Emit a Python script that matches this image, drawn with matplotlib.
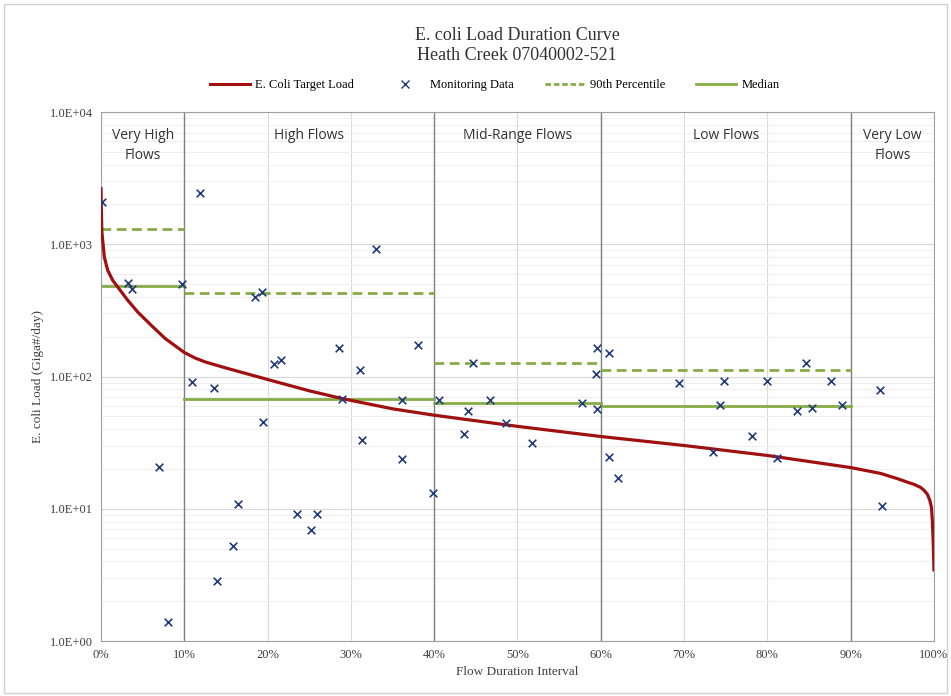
import matplotlib
matplotlib.use("Agg")
import matplotlib.pyplot as plt
from matplotlib.lines import Line2D
from matplotlib.patches import Rectangle
from matplotlib.ticker import FixedLocator, FuncFormatter, LogLocator, NullFormatter

# Target load curve (flow duration %, Giga#/day)
curve_pct = [0, 0.03, 0.1, 0.4, 0.8, 1.4, 2.0, 3.2, 4.4, 6.0, 7.7, 10, 11.3, 12.5, 15,
             17.5, 20, 25, 29, 35, 40, 50, 60, 70, 80, 90, 93.6, 95.6, 96.8, 97.6,
             98.4, 98.8, 99.2, 99.5, 99.7, 99.8, 99.9, 100]
curve_load = [2630, 2000, 1250, 800, 637, 535, 476, 378, 308, 245, 194, 152, 138, 129, 116,
              105, 95, 78, 68, 57, 51, 42, 35.2, 30.1, 25.3, 20.5, 18.5, 16.9, 15.9, 15.3,
              14.5, 13.8, 12.9, 11.6, 10.2, 8.2, 5.8, 3.45]

# Monitoring samples
obs_pct = [0.12, 3.3, 3.7, 9.7, 7.0, 8.0,
           11.9, 10.9, 13.6, 13.9, 15.8, 16.4, 18.5, 19.3, 19.4, 20.8, 21.6, 23.5,
           25.2, 25.9, 28.6, 28.9, 31.1, 31.3, 33.0, 36.1, 36.1, 38.0, 39.8,
           40.6, 43.6, 44.1, 44.6, 46.7, 48.6, 51.8, 57.7, 59.4, 59.5, 59.5,
           61.0, 61.0, 62.1, 69.4, 73.5, 74.3, 74.8, 78.2, 79.9, 81.2, 83.6, 84.6,
           85.4, 87.6, 89.0,
           93.5, 93.8]
obs_load = [2090, 510, 462, 500, 20.6, 1.40,
            2450, 90.6, 82, 2.84, 5.2, 10.8, 400, 437, 45.4, 125, 134, 9.17,
            6.9, 9.17, 165, 68, 113, 33.4, 916, 66, 23.6, 172, 13.1,
            67, 36.7, 55.3, 127, 65.9, 44.7, 31.6, 62.8, 104, 164, 57,
            150, 24.5, 17.1, 89, 26.8, 61, 92, 35.4, 92, 24.2, 54.5, 127,
            58, 92.7, 60.4,
            79.6, 10.5]

# Flow regimes and their summary statistics
zone_edges = [0, 10, 40, 60, 90, 100]
zone_names = ["Very High\nFlows", "High Flows", "Mid-Range Flows", "Low Flows", "Very Low\nFlows"]
p90_load = [1312, 428, 127, 112]
median_load = [484, 67.8, 63, 59.7]

RED = "#A01010"
NAVY = "#203A7C"
GREEN = "#86AC45"
SERIF = ["Liberation Serif", "DejaVu Serif"]

fig = plt.figure(figsize=(9.51, 6.96), dpi=100)
fig.patches.append(Rectangle((0.004, 0.004), 0.992, 0.99, transform=fig.transFigure,
                             fill=False, edgecolor="#D0D0D0", linewidth=1.0))
ax = fig.add_axes([0.1062, 0.079, 0.8759, 0.760])

ax.set_yscale("log")
ax.set_ylim(1, 1e4)
ax.set_xlim(0, 100)

# grid: light at every 10%, darker at regime boundaries
ax.xaxis.set_major_locator(FixedLocator(range(0, 101, 10)))
ax.yaxis.set_major_locator(LogLocator(base=10, numticks=10))
ax.yaxis.set_minor_locator(LogLocator(base=10, subs=range(2, 10), numticks=20))
ax.yaxis.set_minor_formatter(NullFormatter())
ax.grid(True, which="major", color="#D9D9D9", linewidth=0.8)
ax.grid(True, which="minor", axis="y", color="#EFEFEF", linewidth=0.7)
ax.set_axisbelow(True)
for edge in zone_edges[1:-1]:
    ax.axvline(edge, color="#808080", linewidth=1.0, zorder=1)
for s in ax.spines.values():
    s.set_color("#A0A0A0")

ax.xaxis.set_major_formatter(FuncFormatter(lambda v, _: f"{v:.0f}%"))
ax.yaxis.set_major_formatter(FuncFormatter(lambda v, _: f"{v:.1E}"))
ax.tick_params(which="both", length=0)
ax.tick_params(labelsize=9, colors="#404040", pad=6)
for lab in ax.get_xticklabels() + ax.get_yticklabels():
    lab.set_family(SERIF)

ax.plot(curve_pct, curve_load, color=RED, linewidth=2.3, zorder=3, solid_joinstyle="round")
ax.scatter(obs_pct, obs_load, marker="x", color=NAVY, s=30, linewidths=1.2, zorder=4)
for i in range(len(p90_load)):
    lo, hi = zone_edges[i], zone_edges[i + 1]
    ax.plot([lo, hi], [p90_load[i]] * 2, color=GREEN, linestyle=(0, (3.5, 2)), linewidth=2.0, zorder=2)
    ax.plot([lo, hi], [median_load[i]] * 2, color=GREEN, linewidth=2.0, zorder=2)

for i, name in enumerate(zone_names):
    mid = (zone_edges[i] + zone_edges[i + 1]) / 2
    ax.text(mid, 0.97, name, transform=ax.get_xaxis_transform(), ha="center", va="top",
            fontsize=10, family=["Open Sans", "DejaVu Sans"], color="#333333", linespacing=1.5)

ax.set_xlabel("Flow Duration Interval", fontsize=9.5, family=SERIF, color="#404040", labelpad=3)
ax.set_ylabel("E. coli Load (Giga#/day)", fontsize=9.5, family=SERIF, color="#404040", labelpad=4)

fig.text(0.544, 0.935, "E. coli Load Duration Curve\nHeath Creek 07040002-521", ha="center",
         va="center", fontsize=13, family=SERIF, color="#333333", linespacing=1.2)

handles = [
    Line2D([], [], color=RED, linewidth=2.2),
    Line2D([], [], color=NAVY, marker="x", linestyle="none", markersize=6),
    Line2D([], [], color=GREEN, linestyle=(0, (2, 1)), linewidth=2.0),
    Line2D([], [], color=GREEN, linewidth=2.0),
]
labels = ["E. Coli Target Load", "Monitoring Data", "90th Percentile", "Median"]
fig.legend(handles, labels, loc="center", bbox_to_anchor=(0.52, 0.878), ncol=4, frameon=False,
           prop={"family": SERIF, "size": 9}, handlelength=3.2, columnspacing=2.5, handletextpad=0.4)

fig.savefig("out.png", dpi=100)
